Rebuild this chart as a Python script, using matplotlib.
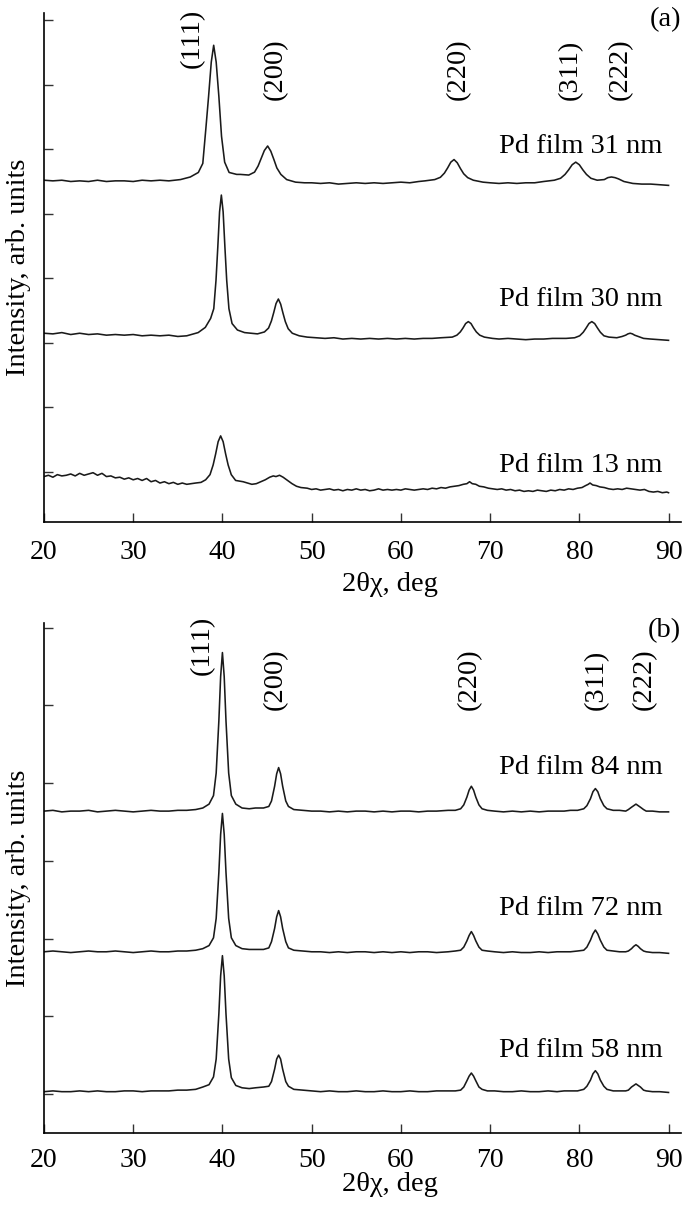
import matplotlib.pyplot as plt

plt.rcParams["font.family"] = ["Liberation Serif", "DejaVu Serif"]

# ---- panel (a): thin films ----
x_31 = [20, 21, 22, 23, 24, 25, 26, 27, 28, 29, 30, 31, 32, 33, 34,
        35.3, 36.4, 37.3, 37.8, 38.15, 38.45, 38.75, 39.02, 39.3, 39.6, 39.9, 40.25, 40.75, 41.6,
        42.0, 42.95, 43.6, 44.0, 44.35, 44.7, 45.07, 45.42, 45.77, 46.1, 46.55, 47.2, 48.2, 49.2,
        50, 51, 52, 53, 54, 55, 56, 57, 58, 59, 60, 61, 62,
        62.7, 63.8, 64.43, 64.88, 65.24, 65.6, 65.96, 66.32, 66.68, 67.04, 67.49, 68.12, 69.2,
        70, 71, 72, 73, 74, 75, 76,
        77.2, 77.9, 78.4, 78.8, 79.2, 79.6, 80.0, 80.4, 80.8, 81.3, 82.0,
        82.8, 83.2, 83.6, 84.0, 84.4, 85.0, 86, 87, 88, 89, 90]
y_31 = [4.52, 4.51, 4.52, 4.50, 4.51, 4.50, 4.52, 4.50, 4.51, 4.51, 4.50, 4.52, 4.51, 4.52, 4.51,
        4.53, 4.57, 4.64, 4.78, 5.33, 5.82, 6.35, 6.61, 6.35, 5.82, 5.20, 4.80, 4.64, 4.61,
        4.61, 4.60, 4.645, 4.74, 4.86, 4.98, 5.05, 4.97, 4.84, 4.71, 4.61, 4.53, 4.49, 4.48,
        4.48, 4.47, 4.48, 4.46, 4.47, 4.48, 4.47, 4.48, 4.47, 4.48, 4.49, 4.48, 4.50,
        4.51, 4.53, 4.565, 4.63, 4.71, 4.80, 4.84, 4.79, 4.70, 4.62, 4.56, 4.52, 4.49,
        4.48, 4.47, 4.48, 4.47, 4.48, 4.48, 4.50,
        4.52, 4.55, 4.61, 4.68, 4.76, 4.80, 4.76, 4.68, 4.61, 4.55, 4.52,
        4.53, 4.56, 4.57, 4.56, 4.54, 4.50, 4.47, 4.46, 4.46, 4.45, 4.44]

x_30 = [20, 21, 22, 23, 24, 25, 26, 27, 28, 29, 30, 31, 32, 33, 34, 35, 36,
        37.28, 38.08, 38.68, 39.03, 39.28, 39.48, 39.68, 39.88, 40.08, 40.28, 40.48, 40.73, 41.08, 41.68, 42.48,
        43.2, 43.93, 44.71, 45.17, 45.49, 45.75, 46.01, 46.27, 46.53, 46.79, 47.05, 47.37, 47.83, 48.61,
        49.5, 50.5, 51.5, 52.5, 53.5, 54.5, 55.5, 56.5, 57.5, 58.5, 59.5, 60.5, 61.5, 62.5, 63.5, 64.5,
        65.76, 66.28, 66.66, 66.96, 67.26, 67.56, 67.86, 68.16, 68.46, 68.84, 69.36, 70.26,
        71, 72, 73, 74, 75, 76, 77,
        78.52, 79.48, 80.04, 80.44, 80.76, 81.08, 81.4, 81.72, 82.04, 82.36, 82.76, 83.32,
        84.2, 84.8, 85.2, 85.45, 85.7, 85.95, 86.2, 86.6, 87.2, 88, 89, 90]
y_30 = [2.15, 2.14, 2.16, 2.13, 2.15, 2.13, 2.14, 2.12, 2.13, 2.12, 2.13, 2.11, 2.12, 2.11, 2.12, 2.10, 2.11,
        2.16, 2.24, 2.38, 2.53, 2.97, 3.48, 4.03, 4.29, 4.03, 3.48, 2.97, 2.53, 2.30, 2.20, 2.16,
        2.15, 2.14, 2.17, 2.23, 2.34, 2.47, 2.61, 2.68, 2.60, 2.46, 2.33, 2.22, 2.15, 2.11,
        2.09, 2.08, 2.07, 2.08, 2.06, 2.07, 2.06, 2.07, 2.06, 2.07, 2.06, 2.07, 2.06, 2.07, 2.07, 2.08,
        2.09, 2.12, 2.17, 2.23, 2.30, 2.33, 2.30, 2.23, 2.17, 2.12, 2.09, 2.07,
        2.06, 2.07, 2.06, 2.05, 2.06, 2.06, 2.07,
        2.07, 2.08, 2.11, 2.165, 2.23, 2.30, 2.33, 2.30, 2.23, 2.165, 2.11, 2.09,
        2.08, 2.10, 2.12, 2.14, 2.15, 2.14, 2.12, 2.10, 2.07, 2.06, 2.05, 2.04]

x_13 = [20, 20.5, 21, 21.5, 22, 22.5, 23, 23.5, 24, 24.5, 25, 25.5, 26, 26.5, 27, 27.5, 28, 28.5,
        29, 29.5, 30, 30.5, 31, 31.5, 32, 32.5, 33, 33.5, 34, 34.5, 35, 35.5, 36, 36.5, 37, 37.6,
        38.12, 38.61, 38.96, 39.24, 39.52, 39.8, 40.08, 40.36, 40.64, 40.99, 41.48, 42.32,
        42.8, 43.3, 43.8, 44.3,
        44.8, 45.3, 45.7, 46.0, 46.4, 46.8, 47.3, 47.8, 48.3, 48.8,
        49.5, 50, 50.5, 51, 51.5, 52, 52.5, 53, 53.5, 54, 54.5, 55, 55.5, 56, 56.5, 57, 57.5,
        58, 58.5, 59, 59.5, 60, 60.5, 61, 61.5, 62, 62.5, 63, 63.5, 64, 64.5, 65, 65.5,
        66.0, 66.5, 67.0, 67.4, 67.7, 68.0, 68.4, 68.8, 69.3, 69.8,
        70.3, 70.8, 71.3, 71.8, 72.3, 72.8, 73.3, 73.8, 74.3, 74.8, 75.3, 75.8, 76.3, 76.8,
        77.3, 77.8, 78.3, 78.8, 79.3, 79.8,
        80.3, 80.7, 81.0, 81.2, 81.5, 81.9, 82.3, 82.8, 83.3,
        83.8, 84.3, 84.8, 85.3, 85.8, 86.3, 86.8, 87.3, 87.8, 88.3, 88.8, 89.3, 89.8, 90]
y_13 = [-0.07, -0.05, -0.08, -0.04, -0.06, -0.05, -0.03, -0.06, -0.02, -0.05, -0.03, -0.01, -0.05,
        -0.02, -0.07, -0.06, -0.09, -0.08, -0.11, -0.09, -0.12, -0.10, -0.13, -0.10, -0.15, -0.13,
        -0.17, -0.15, -0.18, -0.16, -0.19, -0.17, -0.19, -0.18, -0.17, -0.16,
        -0.12, -0.04, 0.11, 0.28, 0.47, 0.56, 0.47, 0.28, 0.11, -0.04, -0.13, -0.15,
        -0.17, -0.19, -0.18, -0.15,
        -0.12, -0.08, -0.06, -0.07, -0.05, -0.08, -0.13, -0.18, -0.22, -0.24,
        -0.25, -0.27, -0.26, -0.28, -0.27, -0.26, -0.28, -0.27, -0.29, -0.27, -0.28, -0.26, -0.28,
        -0.27, -0.29, -0.28, -0.26, -0.28, -0.27, -0.28, -0.27, -0.28, -0.26, -0.27, -0.28, -0.27,
        -0.26, -0.27, -0.25, -0.26, -0.24, -0.25, -0.23,
        -0.22, -0.21, -0.19, -0.18, -0.15, -0.18, -0.19, -0.22, -0.23, -0.25,
        -0.26, -0.27, -0.26, -0.28, -0.27, -0.29, -0.28, -0.30, -0.29, -0.30, -0.28, -0.29, -0.30,
        -0.28, -0.29, -0.27, -0.28, -0.26, -0.27, -0.25,
        -0.24, -0.21, -0.19, -0.17, -0.20, -0.21, -0.23, -0.24, -0.26,
        -0.27, -0.26, -0.27, -0.25, -0.26, -0.27, -0.28, -0.27, -0.30, -0.31, -0.30, -0.32, -0.31, -0.32]

# ---- panel (b): thicker films, shared angle grid ----
x_b = [20, 21, 22, 23, 24, 25, 26, 27, 28, 29, 30, 31, 32, 33, 34, 35, 36,
       37.0, 37.8, 38.5, 39.0, 39.3, 39.6, 39.8, 40.0, 40.2, 40.4, 40.7, 41.0, 41.5, 42.2, 43.0,
       43.7, 44.6, 45.2, 45.5, 45.85, 46.08, 46.3, 46.52, 46.75, 47.1, 47.4, 48.0, 49.0, 50.0,
       51, 52, 53, 54, 55, 56, 57, 58, 59, 60, 61, 62, 63, 64,
       65.3, 66.1, 66.7, 67.05, 67.4, 67.65, 67.9, 68.15, 68.4, 68.75, 69.1, 69.7, 70.5,
       71.5, 72.5, 73.5, 74.5, 75.5, 76.5, 77.5, 78.3,
       79.0, 79.8, 80.5, 80.85, 81.25, 81.53, 81.8, 82.07, 82.35, 82.75, 83.1, 83.8,
       84.5, 85.2, 85.5, 85.85, 86.1, 86.35, 86.6, 86.85, 87.2, 87.5, 88.2, 89.0, 90.0]
y_84 = [3.64, 3.65, 3.63, 3.64, 3.64, 3.65, 3.63, 3.64, 3.65, 3.64, 3.63, 3.64, 3.65, 3.64, 3.64, 3.65, 3.65,
        3.66, 3.68, 3.73, 3.84, 4.13, 4.80, 5.37, 5.68, 5.37, 4.80, 4.13, 3.84, 3.73, 3.68, 3.67,
        3.68, 3.68, 3.70, 3.77, 3.96, 4.12, 4.20, 4.12, 3.96, 3.77, 3.70, 3.66, 3.65, 3.64,
        3.64, 3.63, 3.64, 3.63, 3.64, 3.64, 3.63, 3.64, 3.63, 3.64, 3.64, 3.63, 3.64, 3.64,
        3.65, 3.65, 3.67, 3.72, 3.82, 3.91, 3.96, 3.91, 3.82, 3.72, 3.67, 3.65, 3.64,
        3.63, 3.64, 3.63, 3.64, 3.63, 3.64, 3.64, 3.64,
        3.65, 3.65, 3.67, 3.71, 3.80, 3.89, 3.93, 3.89, 3.80, 3.71, 3.67, 3.65,
        3.65, 3.64, 3.66, 3.69, 3.71, 3.73, 3.71, 3.69, 3.66, 3.64, 3.64, 3.63, 3.63]
y_72 = [1.83, 1.84, 1.83, 1.82, 1.83, 1.84, 1.83, 1.83, 1.84, 1.83, 1.82, 1.83, 1.84, 1.83, 1.83, 1.84, 1.84,
        1.85, 1.87, 1.91, 2.01, 2.26, 2.85, 3.34, 3.61, 3.34, 2.85, 2.26, 2.01, 1.91, 1.87, 1.86,
        1.86, 1.86, 1.88, 1.96, 2.13, 2.28, 2.36, 2.28, 2.13, 1.96, 1.88, 1.85, 1.84, 1.83,
        1.83, 1.82, 1.83, 1.82, 1.83, 1.83, 1.82, 1.83, 1.82, 1.83, 1.82, 1.83, 1.83, 1.82,
        1.83, 1.84, 1.85, 1.89, 1.97, 2.04, 2.09, 2.04, 1.97, 1.89, 1.85, 1.84, 1.83,
        1.82, 1.83, 1.82, 1.82, 1.83, 1.82, 1.83, 1.83,
        1.83, 1.84, 1.85, 1.89, 1.98, 2.06, 2.11, 2.06, 1.98, 1.89, 1.85, 1.84,
        1.83, 1.83, 1.84, 1.87, 1.90, 1.92, 1.90, 1.87, 1.84, 1.83, 1.82, 1.82, 1.81]
y_58 = [0.03, 0.04, 0.03, 0.03, 0.04, 0.03, 0.04, 0.03, 0.03, 0.04, 0.04, 0.03, 0.04, 0.04, 0.04, 0.05, 0.05,
        0.06, 0.09, 0.12, 0.22, 0.45, 1.03, 1.52, 1.78, 1.52, 1.03, 0.45, 0.21, 0.11, 0.08, 0.07,
        0.08, 0.09, 0.10, 0.16, 0.32, 0.45, 0.50, 0.45, 0.32, 0.16, 0.10, 0.06, 0.05, 0.04,
        0.03, 0.04, 0.03, 0.03, 0.04, 0.03, 0.03, 0.04, 0.03, 0.03, 0.04, 0.03, 0.03, 0.04,
        0.04, 0.04, 0.05, 0.09, 0.17, 0.23, 0.27, 0.23, 0.17, 0.09, 0.06, 0.04, 0.04,
        0.03, 0.03, 0.04, 0.03, 0.03, 0.04, 0.03, 0.04,
        0.04, 0.04, 0.06, 0.10, 0.18, 0.26, 0.30, 0.26, 0.18, 0.10, 0.06, 0.04,
        0.04, 0.04, 0.05, 0.09, 0.11, 0.13, 0.11, 0.09, 0.05, 0.04, 0.03, 0.03, 0.02]

hkl = ["(111)", "(200)", "(220)", "(311)", "(222)"]
hkl_x_a = [36.6, 45.9, 66.4, 79.0, 84.6]
hkl_x_b = [37.8, 45.9, 67.7, 81.9, 87.3]
films_a = ["Pd film 31 nm", "Pd film 30 nm", "Pd film 13 nm"]
films_b = ["Pd film 84 nm", "Pd film 72 nm", "Pd film 58 nm"]

# ---- figure ----
fig = plt.figure(figsize=(6.85, 12.14), dpi=100)
ax_a = fig.add_axes([0.0642, 0.5700, 0.9300, 0.4193])
ax_b = fig.add_axes([0.0642, 0.0667, 0.9300, 0.4201])

line_color = "#1a1a1a"
text_size = 20.5


def style_axes(ax, ymin, ymax, nticks, tick_pad, xlabel_y):
    ax.set_xlim(20, 91.4)
    ax.set_ylim(ymin, ymax)
    ax.set_xticks([20, 30, 40, 50, 60, 70, 80, 90])
    ax.set_yticks(range(nticks))
    ax.set_yticklabels([])
    ax.tick_params(direction="in", length=6.5, width=1.0, labelsize=20,
                   pad=tick_pad, color="#333333")
    ax.spines["top"].set_visible(False)
    ax.spines["right"].set_visible(False)
    ax.spines["left"].set_linewidth(1.2)
    ax.spines["bottom"].set_linewidth(1.2)
    ax.set_xlabel("2θχ, deg", fontsize=text_size)
    ax.xaxis.set_label_coords(0.543, xlabel_y)
    ax.set_ylabel("Intensity, arb. units", fontsize=text_size)
    ax.yaxis.set_label_coords(-0.020, 0.5)


# panel (a)
ax_a.plot(x_31, y_31, color=line_color, lw=1.15)
ax_a.plot(x_30, y_30, color=line_color, lw=1.15)
ax_a.plot(x_13, y_13, color=line_color, lw=1.15)
style_axes(ax_a, -0.774, 7.11, 8, 13, -0.098)

label_bottom_a = [6.26, 5.76, 5.76, 5.76, 5.76]
for name, xx, yy in zip(hkl, hkl_x_a, label_bottom_a):
    ax_a.text(xx, yy, name, rotation=90, ha="center", va="bottom", fontsize=text_size)

for name, yy in zip(films_a, [4.94, 2.57, 0.0]):
    ax_a.text(89.3, yy, name, ha="right", va="baseline", fontsize=text_size)

ax_a.text(1.0, 1.012, "(a)", transform=ax_a.transAxes, ha="right", va="top", fontsize=text_size)

# panel (b)
ax_b.plot(x_b, y_84, color=line_color, lw=1.15)
ax_b.plot(x_b, y_72, color=line_color, lw=1.15)
ax_b.plot(x_b, y_58, color=line_color, lw=1.15)
style_axes(ax_b, -0.502, 6.06, 7, 10.5, -0.076)

label_bottom_b = [5.39, 4.94, 4.94, 4.94, 4.94]
for name, xx, yy in zip(hkl, hkl_x_b, label_bottom_b):
    ax_b.text(xx, yy, name, rotation=90, ha="center", va="bottom", fontsize=text_size)

for name, yy in zip(films_b, [4.12, 2.30, 0.48]):
    ax_b.text(89.3, yy, name, ha="right", va="baseline", fontsize=text_size)

ax_b.text(1.0, 1.0098, "(b)", transform=ax_b.transAxes, ha="right", va="top", fontsize=text_size)

fig.savefig("out.png", dpi=100)
